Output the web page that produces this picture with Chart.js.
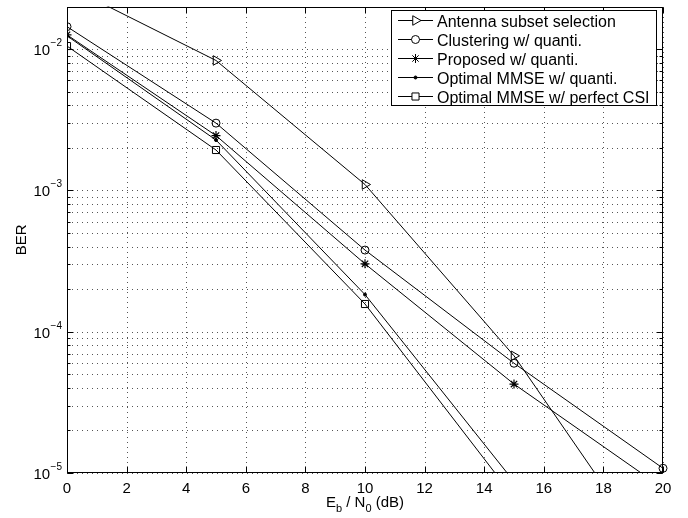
<!DOCTYPE html>
<html>
<head>
    <title>BER vs Eb/N0</title>
    <meta charset="UTF-8">
    <script src="https://cdn.jsdelivr.net/npm/chart.js"></script>
    <style>
        body { margin: 0; background: #fff; }
    </style>
</head>
<body>
    <canvas id="berChart" width="688" height="518"></canvas>

    <script>
        // Eb/N0 points (dB)
        const snr = [0, 5, 10, 15, 20];

        // BER values
        const antennaBer = [2.8e-2, 8.3e-3, 1.1e-3, 6.75e-5, 2.0e-6];
        const clusterBer = [1.44e-2, 2.99e-3, 3.78e-4, 5.98e-5, 1.08e-5];
        const proposedBer = [1.26e-2, 2.44e-3, 3.02e-4, 4.26e-5, 7.8e-6];
        const mmseQuantBer = [1.24e-2, 2.27e-3, 1.83e-4, 8.7e-6];
        const mmsePerfectBer = [1.05e-2, 1.93e-3, 1.57e-4, 6.7e-6];

        const seriesNames = [
            'Antenna subset selection',
            'Clustering w/ quanti.',
            'Proposed w/ quanti.',
            'Optimal MMSE w/ quanti.',
            'Optimal MMSE w/ perfect CSI'
        ];

        // log axis ticks: 1..9 x 10^n, plus top edge
        const yTickValues = [];
        for (let e = -5; e <= -2; e++) {
            for (let m = 1; m <= 9; m++) {
                const v = m * Math.pow(10, e);
                if (v <= 2e-2 + 1e-12) yTickValues.push(v);
            }
        }

        const FONT = '"Liberation Sans", Arial, Helvetica, sans-serif';

        function isDecade(v) {
            const e = Math.round(Math.log10(v));
            return Math.abs(v - Math.pow(10, e)) / v < 1e-6;
        }

        function toPoints(ys) {
            return ys.map((y, i) => ({ x: snr[i], y: y }));
        }

        function makeSet(label, ys, style, extra) {
            return Object.assign({
                label: label,
                data: toPoints(ys),
                borderColor: '#000',
                borderWidth: 1,
                backgroundColor: 'rgba(0,0,0,0)',
                pointBorderColor: '#000',
                pointBorderWidth: 1,
                pointStyle: style,
                pointRadius: 4.5,
                tension: 0
            }, extra || {});
        }

        const datasets = [
            makeSet(seriesNames[0], antennaBer, 'triangle', { pointRotation: 90, pointRadius: 5.5 }),
            makeSet(seriesNames[1], clusterBer, 'circle', { pointRadius: 4, clip: { left: 0, top: 0, right: 8, bottom: 8 } }),
            makeSet(seriesNames[2], proposedBer, 'star', { pointRadius: 4.5, pointBorderWidth: 1.2 }),
            makeSet(seriesNames[3], mmseQuantBer, 'circle', { pointRadius: 1.5, pointBackgroundColor: '#000' }),
            makeSet(seriesNames[4], mmsePerfectBer, 'rect', { pointRadius: 5 })
        ];

        // dotted grid from the scales' tick positions
        const gridPlugin = {
            id: 'dotGrid',
            beforeDatasetsDraw(chart) {
                const ctx = chart.ctx;
                const a = chart.chartArea;
                const xs = chart.scales.x, ys = chart.scales.y;
                ctx.save();
                ctx.strokeStyle = '#555';
                ctx.lineWidth = 1;
                ctx.setLineDash([1, 4]);
                ctx.beginPath();
                xs.ticks.forEach(t => {
                    const px = Math.round(xs.getPixelForValue(t.value)) + 0.5;
                    ctx.moveTo(px, a.bottom);
                    ctx.lineTo(px, a.top);
                });
                ys.ticks.forEach(t => {
                    const py = Math.round(ys.getPixelForValue(t.value)) + 0.5;
                    ctx.moveTo(a.left, py);
                    ctx.lineTo(a.right, py);
                });
                ctx.stroke();
                ctx.restore();
            }
        };

        // frame, inward tick marks, y labels, axis titles
        const framePlugin = {
            id: 'frame',
            afterDatasetsDraw(chart) {
                const ctx = chart.ctx;
                const a = chart.chartArea;
                const xs = chart.scales.x, ys = chart.scales.y;
                const L = Math.round(a.left) + 0.5, R = Math.round(a.right) - 0.5;
                const T = Math.round(a.top) + 0.5, B = Math.round(a.bottom) - 0.5;
                ctx.save();
                ctx.strokeStyle = '#000';
                ctx.lineWidth = 1;
                ctx.setLineDash([]);
                ctx.strokeRect(L, T, R - L, B - T);
                ctx.beginPath();
                xs.ticks.forEach(t => {
                    const px = Math.round(xs.getPixelForValue(t.value)) + 0.5;
                    ctx.moveTo(px, B); ctx.lineTo(px, B - 6);
                    ctx.moveTo(px, T); ctx.lineTo(px, T + 6);
                });
                ys.ticks.forEach(t => {
                    const py = Math.round(ys.getPixelForValue(t.value)) + 0.5;
                    const len = isDecade(t.value) ? 6 : 3;
                    ctx.moveTo(L, py); ctx.lineTo(L + len, py);
                    ctx.moveTo(R, py); ctx.lineTo(R - len, py);
                });
                ctx.stroke();

                // y tick labels 10^n with raised exponent
                ctx.fillStyle = '#000';
                ctx.textAlign = 'left';
                ctx.textBaseline = 'alphabetic';
                ys.ticks.forEach(t => {
                    if (!isDecade(t.value)) return;
                    const py = ys.getPixelForValue(t.value);
                    const exp = '\u2212' + String(-Math.round(Math.log10(t.value)));
                    ctx.font = '10px ' + FONT;
                    const ew = ctx.measureText(exp).width;
                    const ex = a.left - 5 - ew;
                    ctx.fillText(exp, ex, py - 3);
                    ctx.font = '15px ' + FONT;
                    const bw = ctx.measureText('10').width;
                    ctx.fillText('10', ex - 0.5 - bw, py + 6);
                });

                // y title
                ctx.font = '15px ' + FONT;
                ctx.textAlign = 'center';
                ctx.textBaseline = 'middle';
                ctx.save();
                ctx.translate(22, (a.top + a.bottom) / 2);
                ctx.rotate(-Math.PI / 2);
                ctx.fillText('BER', 0, 0);
                ctx.restore();

                // x title with subscripts
                const parts = [
                    { t: 'E', s: 15, dy: 0 },
                    { t: 'b', s: 11, dy: 5 },
                    { t: ' / N', s: 15, dy: 0 },
                    { t: '0', s: 11, dy: 5 },
                    { t: ' (dB)', s: 15, dy: 0 }
                ];
                ctx.textAlign = 'left';
                ctx.textBaseline = 'alphabetic';
                let total = 0;
                parts.forEach(p => { ctx.font = p.s + 'px ' + FONT; p.w = ctx.measureText(p.t).width; total += p.w; });
                let x = (a.left + a.right) / 2 - total / 2;
                const base = 507;
                parts.forEach(p => {
                    ctx.font = p.s + 'px ' + FONT;
                    ctx.fillText(p.t, x, base + p.dy);
                    x += p.w;
                });
                ctx.restore();
            }
        };

        // legend box inside the plot, top right
        const legendPlugin = {
            id: 'boxLegend',
            afterDraw(chart) {
                const ctx = chart.ctx;
                const left = 391.5, top = 10.5, w = 265, h = 95;
                ctx.save();
                ctx.setLineDash([]);
                ctx.fillStyle = '#fff';
                ctx.fillRect(left, top, w, h);
                ctx.strokeStyle = '#000';
                ctx.lineWidth = 1;
                ctx.strokeRect(left, top, w, h);
                ctx.font = '16px ' + FONT;
                ctx.textAlign = 'left';
                ctx.textBaseline = 'alphabetic';
                chart.data.datasets.forEach((ds, i) => {
                    const y = 20.5 + i * 19;
                    ctx.strokeStyle = '#000';
                    ctx.lineWidth = 1;
                    ctx.beginPath();
                    ctx.moveTo(398, y);
                    ctx.lineTo(433, y);
                    ctx.stroke();
                    ctx.fillStyle = ds.pointBackgroundColor || '#fff';
                    Chart.helpers.drawPoint(ctx, {
                        pointStyle: ds.pointStyle,
                        rotation: ds.pointRotation || 0,
                        radius: ds.pointRadius,
                        borderWidth: 1
                    }, 415.5, y);
                    ctx.fillStyle = '#000';
                    ctx.fillText(ds.label, 437, y + 6);
                });
                ctx.restore();
            }
        };

        const ctx = document.getElementById('berChart').getContext('2d');
        new Chart(ctx, {
            type: 'line',
            data: { datasets: datasets },
            options: {
                responsive: false,
                animation: false,
                layout: { padding: { left: 0, right: 25, top: 3, bottom: 0 } },
                plugins: {
                    legend: { display: false },
                    tooltip: { enabled: false }
                },
                scales: {
                    x: {
                        type: 'linear',
                        min: 0,
                        max: 20,
                        ticks: {
                            stepSize: 2,
                            padding: 7,
                            maxRotation: 0,
                            color: '#000',
                            font: { family: FONT, size: 15 }
                        },
                        grid: { display: false, drawTicks: false },
                        border: { display: false },
                        afterFit: s => { s.height = 45; }
                    },
                    y: {
                        type: 'logarithmic',
                        min: 1e-5,
                        max: 2e-2,
                        afterBuildTicks: s => { s.ticks = yTickValues.map(v => ({ value: v, major: isDecade(v) })); },
                        ticks: { display: false, autoSkip: false },
                        grid: { display: false, drawTicks: false },
                        border: { display: false },
                        afterFit: s => { s.width = 67; }
                    }
                }
            },
            plugins: [gridPlugin, framePlugin, legendPlugin]
        });
    </script>
</body>
</html>
